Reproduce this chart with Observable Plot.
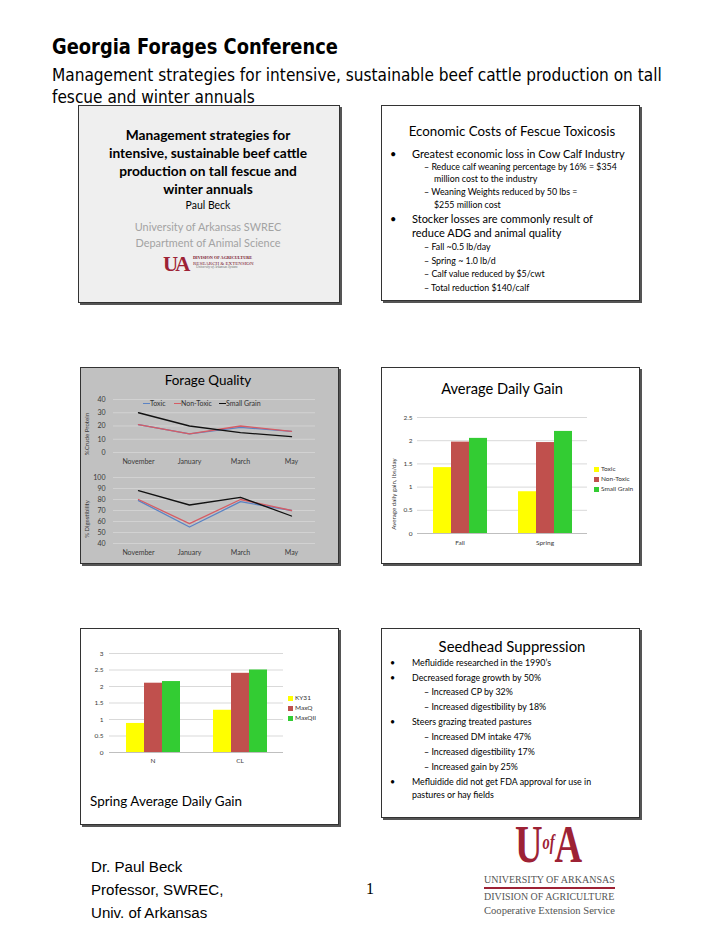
<!DOCTYPE html>
<html><head><meta charset="utf-8">
<script src="https://cdn.jsdelivr.net/npm/d3@7"></script>
<script src="https://cdn.jsdelivr.net/npm/@observablehq/plot@0.6"></script>
<style>
body{margin:0;background:#fff;}
#page{position:relative;width:720px;height:932px;overflow:hidden;font-family:Lato,sans-serif;color:#000;}
.slide{position:absolute;border:1px solid #333;box-shadow:2px 2px 0 #555;box-sizing:border-box;}
.t{position:absolute;white-space:nowrap;line-height:1;transform:translateY(-50%);transform-origin:left center;}
.tc{position:absolute;white-space:nowrap;line-height:1;transform:translate(-50%,-50%);transform-origin:center center;}
.rot{position:absolute;white-space:nowrap;line-height:1;transform:translate(-50%,-50%) rotate(-90deg);color:#3a3a3a;}
.chart{position:absolute;}
.sw{position:absolute;width:5px;height:5px;}
.ln{position:absolute;height:1.3px;}
.hdr{font-family:"DejaVu Sans",sans-serif;}
.ser{font-family:"Liberation Serif",serif;}
.ari{font-family:"Liberation Sans",Arial,sans-serif;}
.b{font-weight:bold;}
</style></head>
<body><div id="page">

<!-- Header -->
<div class="t hdr b" style="left:52px;top:47px;font-size:21px" data-w="286" data-mode="scale">Georgia Forages Conference</div>
<div class="t hdr" style="left:52px;top:75px;font-size:18.5px" data-w="610" data-mode="scale" id="sub1">Management strategies for intensive, sustainable beef cattle production on tall</div>
<div class="t hdr" style="left:52px;top:97px;font-size:18.5px" id="sub2">fescue and winter annuals</div>

<!-- Slide 1 -->
<div class="slide" style="left:78px;top:105px;width:262px;height:198px;background:#efefef"></div>
<div class="tc b" style="left:208px;top:135px;font-size:13px" data-w="163" data-g="s1">Management strategies for</div>
<div class="tc b" style="left:208px;top:153px;font-size:13px" data-w="199" data-g="s1">intensive, sustainable beef cattle</div>
<div class="tc b" style="left:208px;top:171px;font-size:13px" data-w="177" data-g="s1">production on tall fescue and</div>
<div class="tc b" style="left:208px;top:189px;font-size:13px" data-w="90" data-g="s1">winter annuals</div>
<div class="tc" style="left:208px;top:205px;font-size:10px" data-w="45">Paul Beck</div>
<div class="tc" style="left:208px;top:227px;font-size:10px;color:#a3a3a3" data-w="143" data-g="s1g">University of Arkansas SWREC</div>
<div class="tc" style="left:208px;top:243px;font-size:10px;color:#a3a3a3" data-w="145" data-g="s1g">Department of Animal Science</div>
<div class="t ser b" style="left:163px;top:264px;font-size:21px;color:#9d2235;letter-spacing:-3px">UA</div>
<div class="t ser b" style="left:193px;top:258px;font-size:4px;color:#7a2030" data-w="60">DIVISION OF AGRICULTURE</div>
<div class="t ser" style="left:193px;top:263px;font-size:4px;color:#7a2030" data-w="60">RESEARCH &amp; EXTENSION</div>
<div class="t ser" style="left:196px;top:268px;font-size:3.5px;color:#666;font-style:italic" data-w="42">University of Arkansas System</div>

<!-- Slide 2 -->
<div class="slide" style="left:381px;top:105px;width:259px;height:196px;background:#fff"></div>
<div class="tc" style="left:512px;top:132px;font-size:13px" data-w="207">Economic Costs of Fescue Toxicosis</div>
<div class="t" style="left:390px;top:153px;font-size:11px" data-g="s2b">•</div>
<div class="t" style="left:412px;top:153px;font-size:11px" data-w="208" data-g="s2b">Greatest economic loss in Cow Calf Industry</div>
<div class="t" style="left:424px;top:167px;font-size:9px" data-w="198" data-g="s2s">– Reduce calf weaning percentage by 16% = $354</div>
<div class="t" style="left:434px;top:179px;font-size:9px" data-w="102" data-g="s2s">million cost to the industry</div>
<div class="t" style="left:424px;top:192px;font-size:9px" data-w="147" data-g="s2s">– Weaning Weights reduced by 50 lbs =</div>
<div class="t" style="left:434px;top:205px;font-size:9px" data-w="61" data-g="s2s">$255 million cost</div>
<div class="t" style="left:390px;top:218px;font-size:11px" data-g="s2b">•</div>
<div class="t" style="left:412px;top:218px;font-size:11px" data-w="188" data-g="s2b">Stocker losses are commonly result of</div>
<div class="t" style="left:412px;top:232px;font-size:11px" data-w="149" data-g="s2b">reduce ADG and animal quality</div>
<div class="t" style="left:424px;top:247px;font-size:9px" data-w="77" data-g="s2s">– Fall ~0.5 lb/day</div>
<div class="t" style="left:424px;top:261px;font-size:9px" data-w="68" data-g="s2s">– Spring ~ 1.0 lb/d</div>
<div class="t" style="left:424px;top:274px;font-size:9px" data-w="121" data-g="s2s">– Calf value reduced by $5/cwt</div>
<div class="t" style="left:424px;top:288px;font-size:9px" data-w="105" data-g="s2s">– Total reduction $140/calf</div>

<!-- Slide 3 -->
<div class="slide" style="left:80px;top:367px;width:259px;height:197px;background:#c1c1c1"></div>
<div class="tc" style="left:208px;top:381px;font-size:13px" data-w="87">Forage Quality</div>
<div id="fq1" class="chart" style="left:80px;top:390px"></div>
<div id="fq2" class="chart" style="left:80px;top:468px"></div>
<div class="rot" style="left:87px;top:434px;font-size:6px" data-w="42">%Crude Protein</div>
<div class="rot" style="left:87px;top:519px;font-size:6px" data-w="38">% Digestibility</div>
<div class="ln" style="left:143px;top:403px;width:7px;background:#5b83c4"></div>
<div class="t" style="left:150px;top:403px;font-size:7px;color:#333">Toxic</div>
<div class="ln" style="left:174px;top:403px;width:7px;background:#d65c64"></div>
<div class="t" style="left:181px;top:403px;font-size:7px;color:#333">Non-Toxic</div>
<div class="ln" style="left:219px;top:403px;width:7px;background:#111"></div>
<div class="t" style="left:226px;top:403px;font-size:7px;color:#333">Small Grain</div>

<!-- Slide 4 -->
<div class="slide" style="left:381px;top:367px;width:259px;height:197px;background:#fff"></div>
<div class="tc" style="left:502px;top:389px;font-size:16px" data-w="122">Average Daily Gain</div>
<div id="adg" class="chart" style="left:381px;top:405px"></div>
<div class="rot" style="left:394px;top:494px;font-size:6px" data-w="72">Average daily gain, lbs/day</div>
<div class="sw" style="left:594px;top:466.5px;background:#ffff00"></div>
<div class="t" style="left:601px;top:469px;font-size:6.5px;color:#333">Toxic</div>
<div class="sw" style="left:594px;top:476.5px;background:#c0504d"></div>
<div class="t" style="left:601px;top:479px;font-size:6.5px;color:#333">Non-Toxic</div>
<div class="sw" style="left:594px;top:486.5px;background:#33cc33"></div>
<div class="t" style="left:601px;top:489px;font-size:6.5px;color:#333">Small Grain</div>

<!-- Slide 5 -->
<div class="slide" style="left:80px;top:628px;width:259px;height:197px;background:#fff"></div>
<div id="spring" class="chart" style="left:80px;top:645px"></div>
<div class="sw" style="left:288px;top:695.5px;background:#ffff00"></div>
<div class="t" style="left:295px;top:698px;font-size:6.5px;color:#333">KY31</div>
<div class="sw" style="left:288px;top:705.5px;background:#c0504d"></div>
<div class="t" style="left:295px;top:708px;font-size:6.5px;color:#333">MaxQ</div>
<div class="sw" style="left:288px;top:715.5px;background:#33cc33"></div>
<div class="t" style="left:295px;top:718px;font-size:6.5px;color:#333">MaxQII</div>
<div class="t" style="left:90px;top:802px;font-size:14px" data-w="152">Spring Average Daily Gain</div>

<!-- Slide 6 -->
<div class="slide" style="left:381px;top:628px;width:259px;height:190px;background:#fff"></div>
<div class="tc" style="left:512px;top:646px;font-size:15px" data-w="147">Seedhead Suppression</div>
<div class="t" style="left:390px;top:663px;font-size:9px" data-g="s6">•</div>
<div class="t" style="left:412px;top:663px;font-size:9px" data-w="139" data-g="s6">Mefluidide researched in the 1990’s</div>
<div class="t" style="left:390px;top:678px;font-size:9px" data-g="s6">•</div>
<div class="t" style="left:412px;top:678px;font-size:9px" data-w="137" data-g="s6">Decreased forage growth by 50%</div>
<div class="t" style="left:424px;top:692px;font-size:9px" data-w="86" data-g="s6">– Increased CP by 32%</div>
<div class="t" style="left:424px;top:707px;font-size:9px" data-w="122" data-g="s6">– Increased digestibility by 18%</div>
<div class="t" style="left:390px;top:722px;font-size:9px" data-g="s6">•</div>
<div class="t" style="left:412px;top:722px;font-size:9px" data-w="129" data-g="s6">Steers grazing treated pastures</div>
<div class="t" style="left:424px;top:737px;font-size:9px" data-w="106" data-g="s6">– Increased DM intake 47%</div>
<div class="t" style="left:424px;top:752px;font-size:9px" data-w="111" data-g="s6">– Increased digestibility 17%</div>
<div class="t" style="left:424px;top:767px;font-size:9px" data-w="92" data-g="s6">– Increased gain by 25%</div>
<div class="t" style="left:390px;top:782px;font-size:9px" data-g="s6">•</div>
<div class="t" style="left:412px;top:782px;font-size:9px" data-w="192" data-g="s6">Mefluidide did not get FDA approval for use in</div>
<div class="t" style="left:412px;top:795px;font-size:9px" data-w="78" data-g="s6">pastures or hay fields</div>

<!-- Footer -->
<div class="t ari" style="left:91px;top:867px;font-size:16px" data-w="90" data-g="ft">Dr. Paul Beck</div>
<div class="t ari" style="left:91px;top:890px;font-size:16px" data-w="132" data-g="ft">Professor, SWREC,</div>
<div class="t ari" style="left:91px;top:913px;font-size:16px" data-w="116" data-g="ft">Univ. of Arkansas</div>
<div class="t ser" style="left:366px;top:889px;font-size:16px">1</div>
<div class="t ser b" style="left:515px;top:844px;font-size:53px;line-height:0.72;color:#9d2235" data-w="67" data-mode="scale">U<span style="font-size:20px;font-style:italic;vertical-align:13px">of</span>A</div>
<div class="t ser" style="left:484px;top:879.5px;font-size:11px;color:#555" data-w="131">UNIVERSITY OF ARKANSAS</div>
<div style="position:absolute;left:484px;top:887px;width:131px;height:1.5px;background:#9d2235"></div>
<div class="t ser" style="left:484px;top:897px;font-size:11px;color:#555" data-w="130">DIVISION OF AGRICULTURE</div>
<div class="t ser" style="left:484px;top:911px;font-size:11px;color:#555" data-w="131">Cooperative Extension Service</div>

</div>
<script>
// ---------- Data ----------
const months = ["November", "January", "March", "May"];
const fqSeries = ["Toxic", "Non-Toxic", "Small Grain"];
const cpToxic = [21, 14, 19, 16];
const cpNonToxic = [21, 14, 20, 16];
const cpSmallGrain = [30, 20, 15, 12];
const digToxic = [79, 55, 78, 70];
const digNonToxic = [80, 58, 80, 70];
const digSmallGrain = [88, 75, 82, 65];
const cpTicks = [0, 10, 20, 30, 40];
const digTicks = [40, 50, 60, 70, 80, 90, 100];

const adgPeriods = ["Fall", "Spring"];
const adgSeries = ["Toxic", "Non-Toxic", "Small Grain"];
const adgToxic = [1.42, 0.90];
const adgNonToxic = [1.97, 1.96];
const adgSmallGrain = [2.05, 2.20];
const adgTicks = [0, 0.5, 1, 1.5, 2, 2.5];

const springGroups = ["N", "CL"];
const springSeries = ["KY31", "MaxQ", "MaxQII"];
const springKY31 = [0.88, 1.28];
const springMaxQ = [2.10, 2.40];
const springMaxQII = [2.15, 2.50];
const springTicks = [0, 0.5, 1, 1.5, 2, 2.5, 3];

const lineColors = ["#5b83c4", "#d65c64", "#111111"];
const barColors = ["#ffff00", "#c0504d", "#33cc33"];
const fmt = d => String(d);

// ---------- Forage quality line charts ----------
function lineChart(values, ticks, height, mt, mb) {
  const data = [];
  fqSeries.forEach((s, i) => months.forEach((m, j) => data.push({series: s, month: m, value: values[i][j]})));
  return Plot.plot({
    width: 259, height, marginTop: mt, marginBottom: mb, marginLeft: 33, marginRight: 24,
    style: {background: "transparent", fontFamily: "Lato, sans-serif", fontSize: "7px", color: "#3a3a3a", overflow: "visible"},
    x: {type: "point", domain: months, padding: 0.47, tickSize: 0, tickPadding: 7, label: null},
    y: {domain: [ticks[0], ticks[ticks.length - 1]], ticks, tickSize: 0, tickPadding: 8, label: null, tickFormat: fmt},
    color: {domain: fqSeries, range: lineColors},
    marks: [
      Plot.ruleY(ticks, {stroke: "#d2d2d2", strokeWidth: 1}),
      Plot.line(data, {x: "month", y: "value", z: "series", stroke: "series", strokeWidth: 1.3})
    ]
  });
}
document.getElementById("fq1").append(lineChart([cpToxic, cpNonToxic, cpSmallGrain], cpTicks, 78, 9, 16));
document.getElementById("fq2").append(lineChart([digToxic, digNonToxic, digSmallGrain], digTicks, 92, 9, 17));

// ---------- Grouped bar charts ----------
function barChart(groups, series, values, ticks, opts) {
  const data = [];
  series.forEach((s, i) => groups.forEach((g, j) => data.push({group: g, series: s, value: values[i][j]})));
  return Plot.plot({
    width: opts.width, height: opts.height,
    marginTop: opts.mt, marginBottom: opts.mb, marginLeft: opts.ml, marginRight: opts.mr,
    style: {background: "transparent", fontFamily: "Lato, sans-serif", fontSize: "6.5px", color: "#3a3a3a", overflow: "visible"},
    fx: {domain: groups, padding: 0, axis: "bottom", tickSize: 0, tickPadding: opts.fxPad, label: null},
    x: {domain: series, axis: null, paddingInner: 0, paddingOuter: opts.po},
    y: {domain: [ticks[0], ticks[ticks.length - 1]], ticks, tickSize: 0, tickPadding: opts.yPad, label: null, tickFormat: fmt},
    color: {domain: series, range: barColors},
    marks: [
      Plot.ruleY(ticks.slice(1), {stroke: "#d9d9d9", strokeWidth: 1}),
      Plot.ruleY([0], {stroke: "#bfbfbf", strokeWidth: 1}),
      Plot.barY(data, {fx: "group", x: "series", y: "value", fill: "series", inset: 0})
    ]
  });
}
document.getElementById("adg").append(barChart(adgPeriods, adgSeries, [adgToxic, adgNonToxic, adgSmallGrain], adgTicks,
  {width: 258, height: 150, mt: 12, mb: 22, ml: 35, mr: 52, po: 0.75, fxPad: 7, yPad: 5}));
document.getElementById("spring").append(barChart(springGroups, springSeries, [springKY31, springMaxQ, springMaxQII], springTicks,
  {width: 259, height: 125, mt: 8, mb: 18, ml: 29, mr: 56, po: 0.79, fxPad: 6, yPad: 6}));

// ---------- Fit text widths ----------
const groups = {};
document.querySelectorAll("[data-w]").forEach(el => {
  const w = +el.dataset.w;
  const r = el.offsetWidth;
  if (!r) return;
  if (el.dataset.mode === "scale") {
    el.style.transform = `translateY(-50%) scaleX(${w / r})`;
    if (el.id === "sub1") document.getElementById("sub2").style.transform = `translateY(-50%) scaleX(${w / r})`;
    return;
  }
  const fs = parseFloat(getComputedStyle(el).fontSize) * w / r;
  if (el.dataset.g) (groups[el.dataset.g] = groups[el.dataset.g] || []).push(fs);
  else el.style.fontSize = fs + "px";
});
for (const g in groups) {
  const v = groups[g].sort((a, b) => a - b);
  const med = v[Math.floor(v.length / 2)];
  document.querySelectorAll(`[data-g="${g}"]`).forEach(el => el.style.fontSize = med + "px");
}
</script>
</body></html>
